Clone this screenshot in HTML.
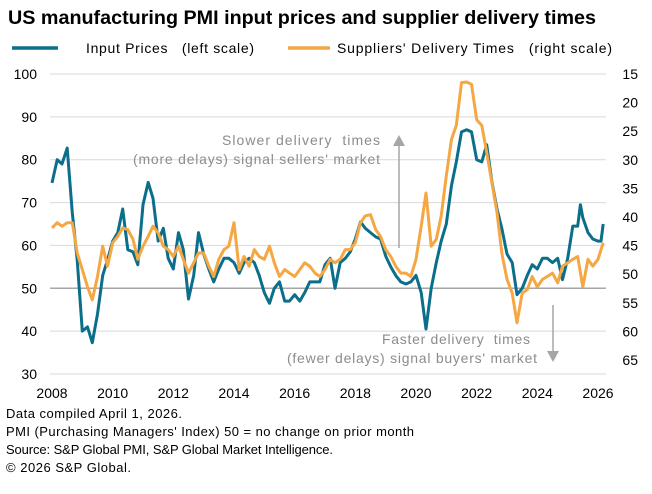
<!DOCTYPE html>
<html><head><meta charset="utf-8"><style>
body{margin:0;background:#fff;font-family:"Liberation Sans",sans-serif;}
svg text{font-family:"Liberation Sans",sans-serif;}
</style></head><body>
<svg id="chart" width="652" height="489" xmlns="http://www.w3.org/2000/svg">
<text x="8" y="24" font-size="19" font-weight="bold" fill="#000" textLength="588" lengthAdjust="spacingAndGlyphs">US manufacturing PMI input prices and supplier delivery times</text>
<g>
<line x1="12" y1="48" x2="58" y2="48" stroke="#0b6e8a" stroke-width="3.5"/>
<text x="86" y="53" font-size="14" fill="#000" textLength="168" xml:space="preserve">Input Prices   (left scale)</text>
<line x1="288" y1="48" x2="330" y2="48" stroke="#f4a742" stroke-width="3.5"/>
<text x="337" y="53" font-size="14" fill="#000" textLength="275" xml:space="preserve">Suppliers' Delivery Times   (right scale)</text>
</g>
<g id="grid"></g>
<g id="axes"></g>
<g>
<text x="222" y="145" font-size="14" fill="#8c8c8c" textLength="158" xml:space="preserve">Slower delivery  times</text>
<text x="133" y="164" font-size="14" fill="#8c8c8c" textLength="247">(more delays) signal sellers' market</text>
<line x1="399" y1="145" x2="399" y2="248" stroke="#a6a6a6" stroke-width="1.5"/>
<polygon points="393,146 405,146 399,135" fill="#a6a6a6"/>
<text x="382" y="344" font-size="14" fill="#8c8c8c" textLength="148" xml:space="preserve">Faster delivery  times</text>
<text x="287" y="363" font-size="14" fill="#8c8c8c" textLength="250">(fewer delays) signal buyers' market</text>
<line x1="553" y1="305" x2="553" y2="352" stroke="#a6a6a6" stroke-width="1.5"/>
<polygon points="547,351 559,351 553,362" fill="#a6a6a6"/>
</g>
<g id="series"></g>
<g font-size="13" fill="#000">
<text x="6" y="418" textLength="176">Data compiled April 1, 2026.</text>
<text x="6" y="436" textLength="408">PMI (Purchasing Managers' Index) 50 = no change on prior month</text>
<text x="6" y="454" textLength="327">Source: S&amp;P Global PMI, S&amp;P Global Market Intelligence.</text>
<text x="6" y="472" textLength="125">© 2026 S&amp;P Global.</text>
</g>
</svg>
<script>
const leftTicks=[30,40,50,60,70,80,90,100];
const rightTicks=[15,20,25,30,35,40,45,50,55,60,65];
const yearTicks=[2008,2010,2012,2014,2016,2018,2020,2022,2024,2026];
const inputDates=[2008,2008.17,2008.33,2008.5,2008.67,2008.83,2009,2009.17,2009.33,2009.5,2009.67,2009.83,2010,2010.17,2010.33,2010.5,2010.67,2010.83,2011,2011.17,2011.33,2011.5,2011.67,2011.83,2012,2012.17,2012.33,2012.5,2012.67,2012.83,2013,2013.17,2013.33,2013.5,2013.67,2013.83,2014,2014.17,2014.33,2014.5,2014.67,2014.83,2015,2015.17,2015.33,2015.5,2015.67,2015.83,2016,2016.17,2016.33,2016.5,2016.67,2016.83,2017,2017.17,2017.33,2017.5,2017.67,2017.83,2018,2018.17,2018.33,2018.5,2018.67,2018.83,2019,2019.17,2019.33,2019.5,2019.67,2019.83,2020,2020.17,2020.33,2020.5,2020.67,2020.83,2021,2021.17,2021.33,2021.5,2021.67,2021.83,2022,2022.17,2022.33,2022.5,2022.67,2022.83,2023,2023.17,2023.33,2023.5,2023.67,2023.83,2024,2024.17,2024.33,2024.5,2024.67,2024.83,2025,2025.17,2025.33,2025.42,2025.5,2025.67,2025.83,2026,2026.1,2026.17];
const inputPrices=[74.6,80,79,82.7,67.6,56.6,40,41,37.3,44,53,56.6,61,63,68.5,59,58.5,55.5,69.5,74.7,71,61,64,57,54.5,63,59,47.5,53,63,58,54.5,51.5,54.5,57,57,56,53.5,56,57,56,53,49,46.5,50,51.5,47,47,48.5,47,49,51.5,51.5,51.5,55.5,57,50,56,57,58.5,61.5,65.5,64,63,62,61.5,57.5,55,53,51.5,51,51.5,53,49,40.5,50,56,61,65,74,79.5,86.5,87,86.5,80,79.5,83.5,75,68.5,64,58,56,48.5,50,53,55.5,54.5,57,57,56,57,52,57,64.5,64.5,69.5,66.5,63,61.5,61,61,65];
const deliveryDates=[2008,2008.17,2008.33,2008.5,2008.67,2008.83,2009,2009.17,2009.33,2009.5,2009.67,2009.83,2010,2010.17,2010.33,2010.5,2010.67,2010.83,2011,2011.17,2011.33,2011.5,2011.67,2011.83,2012,2012.17,2012.33,2012.5,2012.67,2012.83,2013,2013.17,2013.33,2013.5,2013.67,2013.83,2014,2014.17,2014.33,2014.5,2014.67,2014.83,2015,2015.17,2015.33,2015.5,2015.67,2015.83,2016,2016.17,2016.33,2016.5,2016.67,2016.83,2017,2017.17,2017.33,2017.5,2017.67,2017.83,2018,2018.17,2018.33,2018.5,2018.67,2018.83,2019,2019.17,2019.33,2019.5,2019.67,2019.83,2020,2020.17,2020.33,2020.5,2020.67,2020.83,2021,2021.17,2021.33,2021.5,2021.67,2021.83,2022,2022.17,2022.33,2022.5,2022.67,2022.83,2023,2023.17,2023.33,2023.5,2023.67,2023.83,2024,2024.17,2024.33,2024.5,2024.67,2024.83,2025,2025.17,2025.33,2025.5,2025.67,2025.83,2026,2026.17];
const deliveryTimes=[41.9,41,41.6,41,41,46.3,49.2,52.2,54.5,50.4,45.1,48.6,44.5,43.4,41.9,42.2,43.9,47.4,45.1,43.4,41.6,42.8,45.1,45.7,46.9,45.1,47.4,49.8,48,46.3,46.3,48.6,50.4,47.4,45.7,45.1,41,49.2,46.9,48.6,45.7,46.9,47.4,45.1,48,50.4,49.2,49.8,50.4,49.2,48,48.6,49.8,50.4,49.2,47.4,48,47.4,45.7,45.7,44.5,41,39.8,39.6,42.2,43.4,45.7,46.9,48.6,49.8,49.8,50.4,47.4,41.6,35.8,45.1,43.9,39.8,32.8,26.4,24,16.5,16.4,16.8,23,24,28.7,33.9,39.2,46.3,50.9,53.3,58.5,53.3,52.7,50.4,52.2,50.9,50.4,49.8,51.5,48.6,48,47.4,46.9,52.2,47.4,48.6,47.4,44.5];

const NS='http://www.w3.org/2000/svg';
const X0=52,X1=598,PL=50,PR=606;
function xScale(t){return X0+(t-2008)*(X1-X0)/18;}
function yLeft(v){return 74+(100-v)*(374-74)/70;}
function yRight(v){return 74+(v-15)*(360-74)/50;}
function mk(tag,attrs,parent){const e=document.createElementNS(NS,tag);for(const k in attrs)e.setAttribute(k,attrs[k]);parent.appendChild(e);return e;}
const grid=document.getElementById('grid'),axes=document.getElementById('axes'),series=document.getElementById('series');
leftTicks.forEach(v=>{
  const y=yLeft(v);
  const ln=mk('line',{x1:PL,x2:PR,y1:y,y2:y,stroke:v===50?'#a6a6a6':'#d9d9d9','stroke-width':v===50?1.5:1},grid);
  
  
  const t=mk('text',{x:37,y:y+5,'font-size':14,'text-anchor':'end',fill:'#000'},axes);
  t.textContent=v;
  
  
});
rightTicks.forEach(v=>{
  const y=yRight(v);
  const t=mk('text',{x:638,y:y+5,'font-size':14,'text-anchor':'end',fill:'#000'},axes);
  t.textContent=v;
  
  
});
yearTicks.forEach(v=>{
  const t=mk('text',{x:xScale(v),y:398,'font-size':14,'text-anchor':'middle',fill:'#000'},axes);
  t.textContent=v;
  
  
});
function path(dates,vals,ys){return dates.map((d,i)=>(i?'L':'M')+xScale(d).toFixed(1)+','+ys(vals[i]).toFixed(1)).join('');}
const pIn=mk('path',{d:path(inputDates,inputPrices,yLeft),fill:'none',stroke:'#0b6e8a','stroke-width':3,'stroke-linejoin':'round'},series);


const pDl=mk('path',{d:path(deliveryDates,deliveryTimes,yRight),fill:'none',stroke:'#f4a742','stroke-width':3,'stroke-linejoin':'round'},series);


</script>
</body></html>
